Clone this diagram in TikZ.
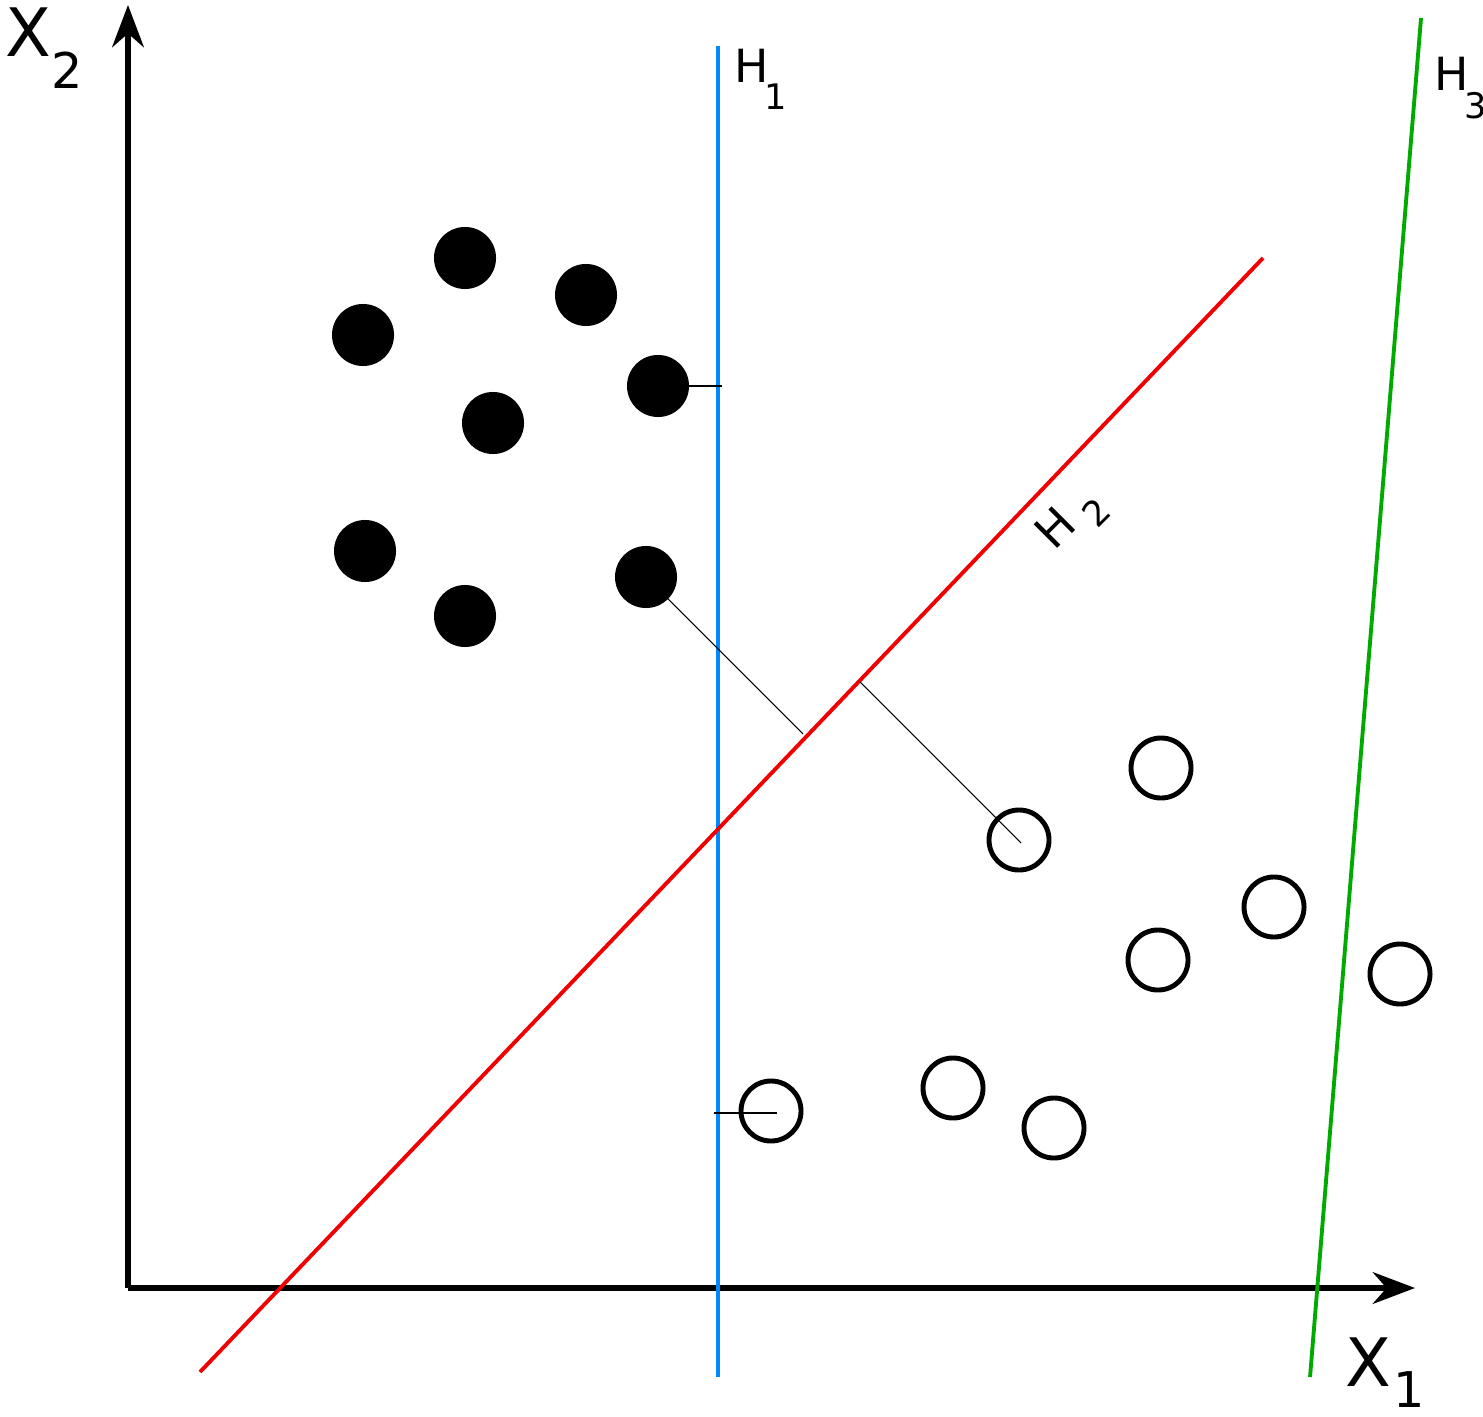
\documentclass[tikz,border=0pt]{standalone}
\usepackage{fontspec}
\setmainfont{DejaVu Sans}
\usetikzlibrary{arrows.meta}
\definecolor{hblue}{RGB}{0,136,255}
\definecolor{hred}{RGB}{240,0,0}
\definecolor{hgreen}{RGB}{0,170,0}
\begin{document}
\begin{tikzpicture}[x=0.01cm,y=-0.01cm,
  axis/.style={line width=1.6pt,-{Stealth[length=12pt,width=9pt]}},
  hyp/.style={line width=1.1pt},
  full/.style={circle,fill=black,minimum size=0.62cm,inner sep=0pt},
  empty/.style={circle,draw=black,line width=1.4pt,minimum size=0.6cm,inner sep=0pt},
  thin/.style={line width=0.3pt},
  big/.style={font=\fontsize{19}{20}\selectfont,inner sep=0pt},
  mid/.style={font=\fontsize{14}{15}\selectfont,inner sep=0pt},
  small/.style={font=\fontsize{13}{14}\selectfont,inner sep=0pt},
  tiny/.style={font=\fontsize{10}{11}\selectfont,inner sep=0pt}]
\useasboundingbox (0,0) rectangle (1483,1416);
\coordinate (o) at (128,1288);
\coordinate (ytop) at (128,5);
\coordinate (xend) at (1415,1288);
\draw[axis] (o) -- (ytop);
\draw[axis] (o) -- (xend);
% hyperplanes
\coordinate (b1) at (718,46); \coordinate (b2) at (718,1377);
\coordinate (r1) at (200,1372); \coordinate (r2) at (1263,258);
\coordinate (g1) at (1310,1377); \coordinate (g2) at (1421,18);
\draw[hyp,hblue] (b1) -- (b2);
\draw[hyp,hred] (r1) -- (r2);
\draw[hyp,hgreen] (g1) -- (g2);
% filled points
\node[full] (f1) at (465,258) {};
\node[full] (f2) at (586,295) {};
\node[full] (f3) at (363,335) {};
\node[full] (f4) at (658,386) {};
\node[full] (f5) at (493,423) {};
\node[full] (f6) at (365,551) {};
\node[full] (f7) at (465,616) {};
\node[full] (f8) at (646,577) {};
% empty points
\node[empty] (e1) at (1161,768) {};
\node[empty] (e2) at (1019,840) {};
\node[empty] (e3) at (1274,907) {};
\node[empty] (e4) at (1158,960) {};
\node[empty] (e5) at (1400,974) {};
\node[empty] (e6) at (953,1088) {};
\node[empty] (e7) at (1054,1128) {};
\node[empty] (e8) at (771,1111) {};
% margin lines
\coordinate (m1) at (722,386);
\coordinate (m2) at (714,1113);
\coordinate (m2e) at (777,1113);
\coordinate (m3) at (803,734);
\coordinate (m4) at (860,682);
\coordinate (m5) at (1021,843);
\draw[thin] (f4.center) -- (m1);
\draw[thin] (m2) -- (m2e);
\draw[thin] (f8.center) -- (m3);
\draw[thin] (m4) -- (m5);
% labels
\node[big] (lx2) at (28,32) {X};
\node[mid] (lx2s) at (67,70) {2};
\node[big] (lx1) at (1368,1362) {X};
\node[mid] (lx1s) at (1409,1390) {1};
\node[small] (lh1) at (752,66) {H};
\node[tiny] (lh1s) at (776,97) {1};
\node[small] (lh3) at (1452,74) {H};
\node[tiny] (lh3s) at (1476,106) {3};
\node[small,rotate=45] (lh2) at (1055,528) {H};
\node[tiny,rotate=45] (lh2s) at (1096,512) {2};
\end{tikzpicture}
\end{document}
